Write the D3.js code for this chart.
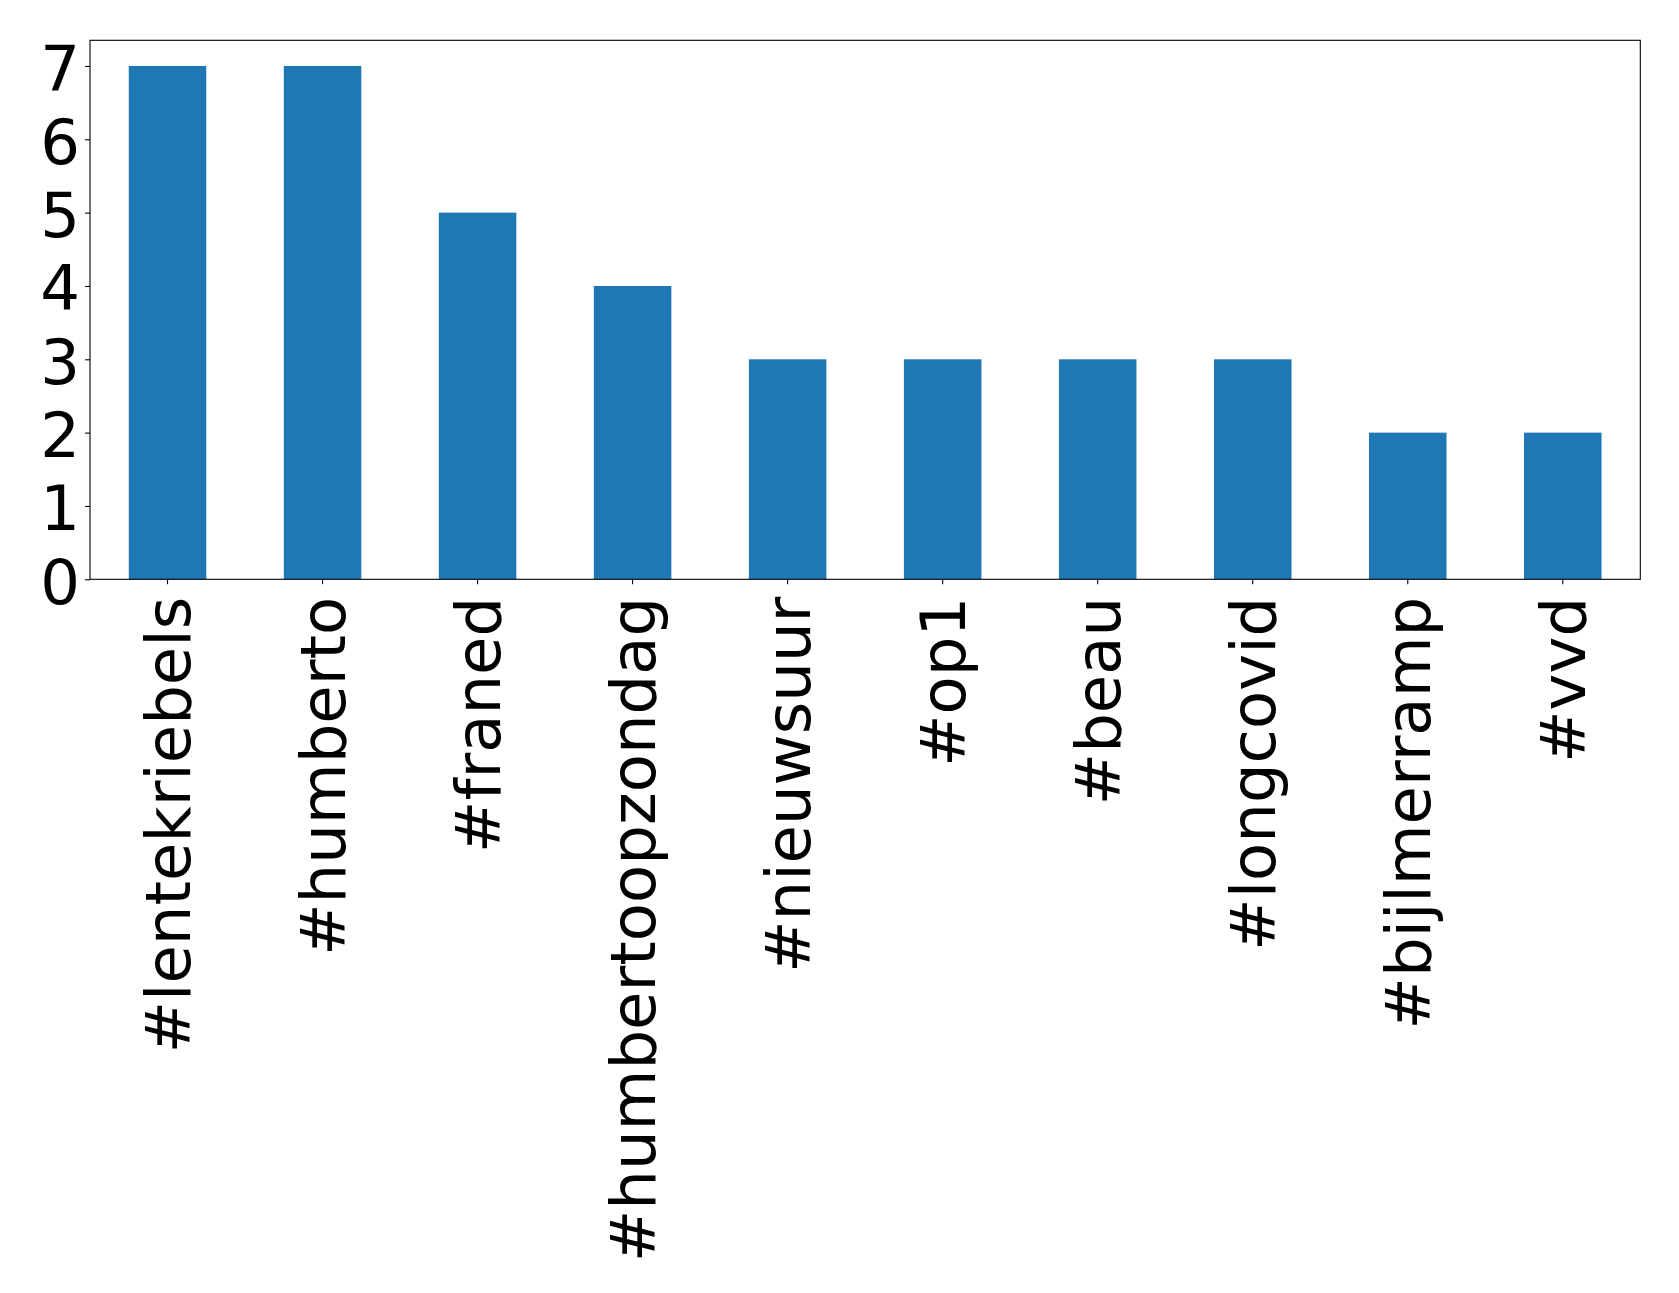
<!DOCTYPE html>
<html><head><meta charset="utf-8">
<script src="https://cdn.jsdelivr.net/npm/d3@7"></script>
<style>body{margin:0;background:#fff}svg{display:block}</style>
</head><body>
<script>
const categories = ["#lentekriebels","#humberto","#franed","#humbertoopzondag","#nieuwsuur","#op1","#beau","#longcovid","#bijlmerramp","#vvd"];
const counts = [7,7,5,4,3,3,3,3,2,2];
const yTicks = [0,1,2,3,4,5,6,7];

const W = 1679, H = 1293;
const m = {left: 90, top: 40.3, right: 1640.3, bottom: 579.3};
const fontSize = 62.5;
const svg = d3.select("body").append("svg").attr("width", W).attr("height", H);

const x = d3.scaleBand().domain(categories).range([m.left, m.right]).paddingInner(0.5).paddingOuter(0.25);
const y = d3.scaleLinear().domain([0, 7.35]).range([m.bottom, m.top]);

svg.append("g").selectAll("rect").data(categories).join("rect")
  .attr("x", d => x(d)).attr("width", x.bandwidth())
  .attr("y", (d,i) => y(counts[i])).attr("height", (d,i) => y(0) - y(counts[i]))
  .attr("fill", "#1f77b4");

// frame
svg.append("rect").attr("x", m.left).attr("y", m.top)
  .attr("width", m.right - m.left).attr("height", m.bottom - m.top)
  .attr("fill", "none").attr("stroke", "#000").attr("stroke-width", 1.1);

// y axis
const ya = svg.append("g").attr("transform", `translate(${m.left},0)`)
  .call(d3.axisLeft(y).tickValues(yTicks).tickSize(4.9).tickPadding(4.9).tickFormat(d3.format("d")));
ya.select(".domain").remove();
ya.selectAll("line").attr("stroke", "#000").attr("stroke-width", 1.1);
ya.selectAll("text").attr("font-family", "DejaVu Sans").attr("font-size", fontSize)
  .attr("fill", "#000").attr("dy", null).attr("x", -10).attr("y", 24);

// x axis
const xa = svg.append("g").attr("transform", `translate(0,${m.bottom})`)
  .call(d3.axisBottom(x).tickSize(4.9).tickPadding(4.9));
xa.select(".domain").remove();
xa.selectAll("line").attr("stroke", "#000").attr("stroke-width", 1.1);
xa.selectAll("text").attr("font-family", "DejaVu Sans").attr("font-size", fontSize)
  .attr("fill", "#000").attr("dy", null).attr("y", null)
  .attr("text-anchor", "end")
  .attr("transform", "translate(22.5,17.5) rotate(-90)");
</script>
</body></html>
